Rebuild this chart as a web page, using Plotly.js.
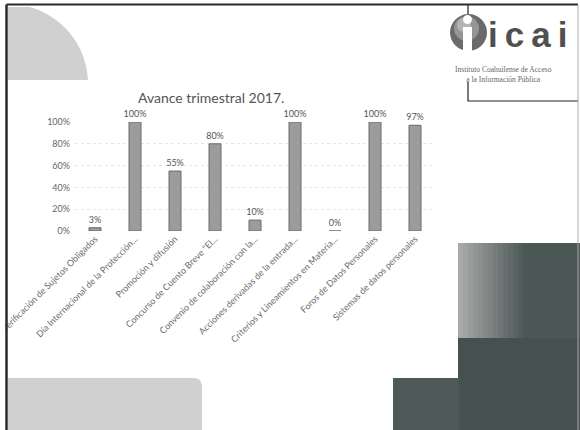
<!DOCTYPE html>
<html>
<head>
<meta charset="utf-8">
<script src="https://cdn.plot.ly/plotly-3.0.1.min.js"></script>
<style>html,body{margin:0;padding:0;background:#fff;}#chart{width:580px;height:430px;}</style>
</head>
<body>
<div id="chart"></div>
<script>
const categories = [
  "Verificación de Sujetos Obligados",
  "Día Internacional de la Protección...",
  "Promoción y difusión",
  "Concurso de Cuento Breve \"El...",
  "Convenio de colaboración con la...",
  "Acciones derivadas de la entrada...",
  "Criterios y Lineamientos en Materia...",
  "Foros de Datos Personales",
  "Sistemas de datos personales"
];
const avance = [0.03, 1.00, 0.55, 0.80, 0.10, 1.00, 0.00, 1.00, 0.97];
const yTicks = [0, 0.2, 0.4, 0.6, 0.8, 1.0];
const chartTitle = "Avance trimestral 2017.";
const logoWord = "i\u2009c\u2009a\u2009i";
const logoCaption = "Instituto Coahuilense de Acceso<br>a la Información Pública";

// pixel -> paper helpers for decoration
const L = 75, W = 360, B = 231, H = 109;
const P = x => (x - L) / W;
const Q = y => (B - y) / H;

const shapes = [];
function rectPx(x0, y0, x1, y1, color, layer) {
  shapes.push({type: 'rect', xref: 'paper', yref: 'paper', x0: P(x0), x1: P(x1), y0: Q(y1), y1: Q(y0),
    fillcolor: color, line: {width: 0}, layer: layer || 'below'});
}
function pathPx(pts, color, layer) {
  let d = 'M ' + pts.map(p => P(p[0]) + ',' + Q(p[1])).join(' L ') + ' Z';
  shapes.push({type: 'path', xref: 'paper', yref: 'paper', path: d, fillcolor: color, line: {width: 0}, layer: layer || 'below'});
}
function linePx(pts, color, w, layer) {
  let d = 'M ' + pts.map(p => P(p[0]) + ',' + Q(p[1])).join(' L ');
  shapes.push({type: 'path', xref: 'paper', yref: 'paper', path: d, line: {color: color, width: w}, layer: layer || 'below'});
}
function circlePx(x0, y0, x1, y1, color, layer) {
  shapes.push({type: 'circle', xref: 'paper', yref: 'paper', x0: P(x0), x1: P(x1), y0: Q(y1), y1: Q(y0),
    fillcolor: color, line: {width: 0}, layer: layer || 'below'});
}

// top-left quarter disc
(function () {
  const pts = [[8, 7]];
  const cx = 8, cy = 84, r = 80;
  const a0 = Math.acos(77 / 80), a1 = Math.acos(4 / 80);
  for (let i = 0; i <= 30; i++) {
    const a = a0 + (a1 - a0) * i / 30;
    pts.push([cx + r * Math.sin(a), cy - r * Math.cos(a)]);
  }
  pts.push([8, 80]);
  pathPx(pts, '#d0d0d0');
})();

// bottom-left light block with rounded corner
(function () {
  const pts = [[8, 378], [194, 378]];
  for (let i = 1; i <= 8; i++) {
    const a = (Math.PI / 2) * i / 8;
    pts.push([194 + 8 * Math.sin(a), 386 - 8 * Math.cos(a)]);
  }
  pts.push([202, 432], [8, 432]);
  pathPx(pts, '#d0d0d0');
})();

// bottom-right dark blocks
(function () {
  const c0 = [168, 168, 168], c1 = [74, 87, 85];
  const n = 14;
  for (let i = 0; i < n; i++) {
    const x0 = 458 + i * 5, x1 = x0 + 5.5;
    const t = Math.min(1, i / (n - 1));
    const c = c0.map((v, k) => Math.round(v + (c1[k] - v) * t));
    rectPx(x0, 243, x1, 338, 'rgb(' + c.join(',') + ')');
  }
  rectPx(528, 243, 580, 338, 'rgb(74,87,85)');
  rectPx(458, 338, 580, 432, 'rgb(68,81,79)');
  rectPx(393, 378, 459, 432, 'rgb(78,90,88)');
})();

// logo
linePx([[468, 5], [468, 17]], '#222', 1.2);
linePx([[468, 82], [468, 101], [578, 101]], '#222', 1.2);
circlePx(450, 14, 487, 51, '#6a6a6a');
circlePx(454, 16, 479, 41, '#959595');
circlePx(457, 18, 471, 32, '#b5b5b5');
rectPx(463, 27, 472, 53, '#ffffff');
circlePx(463, 15, 472, 24, '#ffffff');

// slide border
rectPx(-20, -20, 5.5, 450, '#ffffff', 'above');
linePx([[6.5, 4.5], [578, 4.5]], '#2a2a2a', 2, 'above');
linePx([[6.5, 4.5], [6.5, 432]], '#2a2a2a', 2.5, 'above');
linePx([[578, 4.5], [578, 432]], '#aaaaaa', 1, 'above');

const trace = {
  type: 'bar',
  x: categories,
  y: avance,
  marker: {color: '#9c9c9c', line: {color: '#6a6a6a', width: 1}},
  texttemplate: '%{y:.0%}',
  textposition: 'outside',
  textfont: {family: 'Lato', size: 9, color: '#555'},
  cliponaxis: false,
  constraintext: 'none',
  hoverinfo: 'skip'
};

const layout = {
  width: 580, height: 430,
  margin: {l: L, r: 580 - L - W, t: B - H, b: 430 - B, pad: 0},
  paper_bgcolor: '#ffffff',
  plot_bgcolor: 'rgba(0,0,0,0)',
  showlegend: false,
  bargap: 0.7,
  xaxis: {
    type: 'category', range: [-0.5, 8.5], automargin: false,
    tickangle: -45, tickfont: {family: 'Lato', size: 9, color: '#6a6a6a'},
    showline: false, ticks: '', showgrid: false, zeroline: false, fixedrange: true
  },
  yaxis: {
    range: [0, 1], automargin: false, tickvals: yTicks, tickformat: '.0%',
    tickfont: {family: 'Lato', size: 9, color: '#666'},
    showgrid: true, gridcolor: '#e6e6e6', griddash: 'dot', gridwidth: 1,
    zeroline: false, showline: false, ticks: '', ticklabelstandoff: 4, fixedrange: true
  },
  shapes: shapes,
  annotations: [
    {text: chartTitle, xref: 'paper', yref: 'paper', x: P(211), y: Q(97), xanchor: 'center', yanchor: 'middle',
      showarrow: false, font: {family: 'Lato', size: 14, color: '#555'}},
    {text: logoWord, xref: 'paper', yref: 'paper', x: P(527), y: Q(35), xanchor: 'center', yanchor: 'middle',
      showarrow: false, font: {family: 'Liberation Sans', size: 35, color: '#505050', weight: 'bold'}},
    {text: logoCaption, xref: 'paper', yref: 'paper', x: P(503), y: Q(74), xanchor: 'center', yanchor: 'middle',
      showarrow: false, font: {family: 'Liberation Serif', size: 7.5, color: '#666'}}
  ]
};

Plotly.newPlot('chart', [trace], layout, {displayModeBar: false, staticPlot: true});
</script>
</body>
</html>
